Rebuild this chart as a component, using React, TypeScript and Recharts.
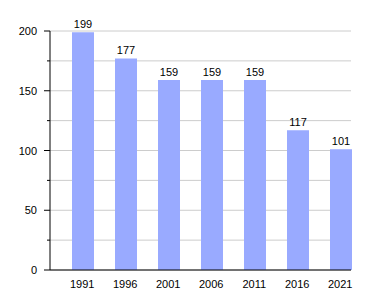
import { Bar, BarChart, CartesianGrid, LabelList, XAxis, YAxis } from "recharts";

const years = ["1991", "1996", "2001", "2006", "2011", "2016", "2021"];
const population = [199, 177, 159, 159, 159, 117, 101];
const yTicks = [0, 25, 50, 75, 100, 125, 150, 175, 200];

const data = years.map((year, i) => ({ year, value: population[i] }));

const FONT = "'Liberation Sans', Arial, sans-serif";

function YTick({ x, y, payload }: any) {
  const major = payload.value % 50 === 0;
  return (
    <g>
      <line x1={major ? x + 2 : x + 5} x2={x + 8} y1={y} y2={y} stroke="#000" />
      {major && (
        <text x={x - 5} y={y} dy={4} textAnchor="end" fontSize={11} fill="#000" fontFamily={FONT}>
          {payload.value}
        </text>
      )}
    </g>
  );
}

function XTick({ x, y, payload }: any) {
  // labels sit under the bar, which fills the right half of each band
  return (
    <text x={x + 10.75} y={y} dy={10} textAnchor="middle" fontSize={11} fill="#000" fontFamily={FONT}>
      {payload.value}
    </text>
  );
}

export default function App() {
  return (
    <div style={{ position: "absolute", left: 0, top: 0, background: "#fff" }}>
      <BarChart
        width={380}
        height={300}
        data={data}
        margin={{ top: 31, right: 29, bottom: 10, left: 0 }}
        barCategoryGap={0}
        barGap={0}
      >
        <CartesianGrid vertical={false} stroke="#cccccc" />
        <XAxis
          dataKey="year"
          height={20}
          tickLine={false}
          axisLine={{ stroke: "#000" }}
          tick={<XTick />}
          interval={0}
        />
        <YAxis
          width={50}
          domain={[0, 200]}
          ticks={yTicks}
          interval={0}
          tickLine={false}
          axisLine={{ stroke: "#000" }}
          tick={<YTick />}
        />
        <Bar dataKey="pad" fill="transparent" isAnimationActive={false} />
        <Bar dataKey="value" fill="#99aaff" isAnimationActive={false}>
          <LabelList dataKey="value" position="top" offset={4} fontSize={11} fill="#000" fontFamily={FONT} />
        </Bar>
      </BarChart>
    </div>
  );
}
